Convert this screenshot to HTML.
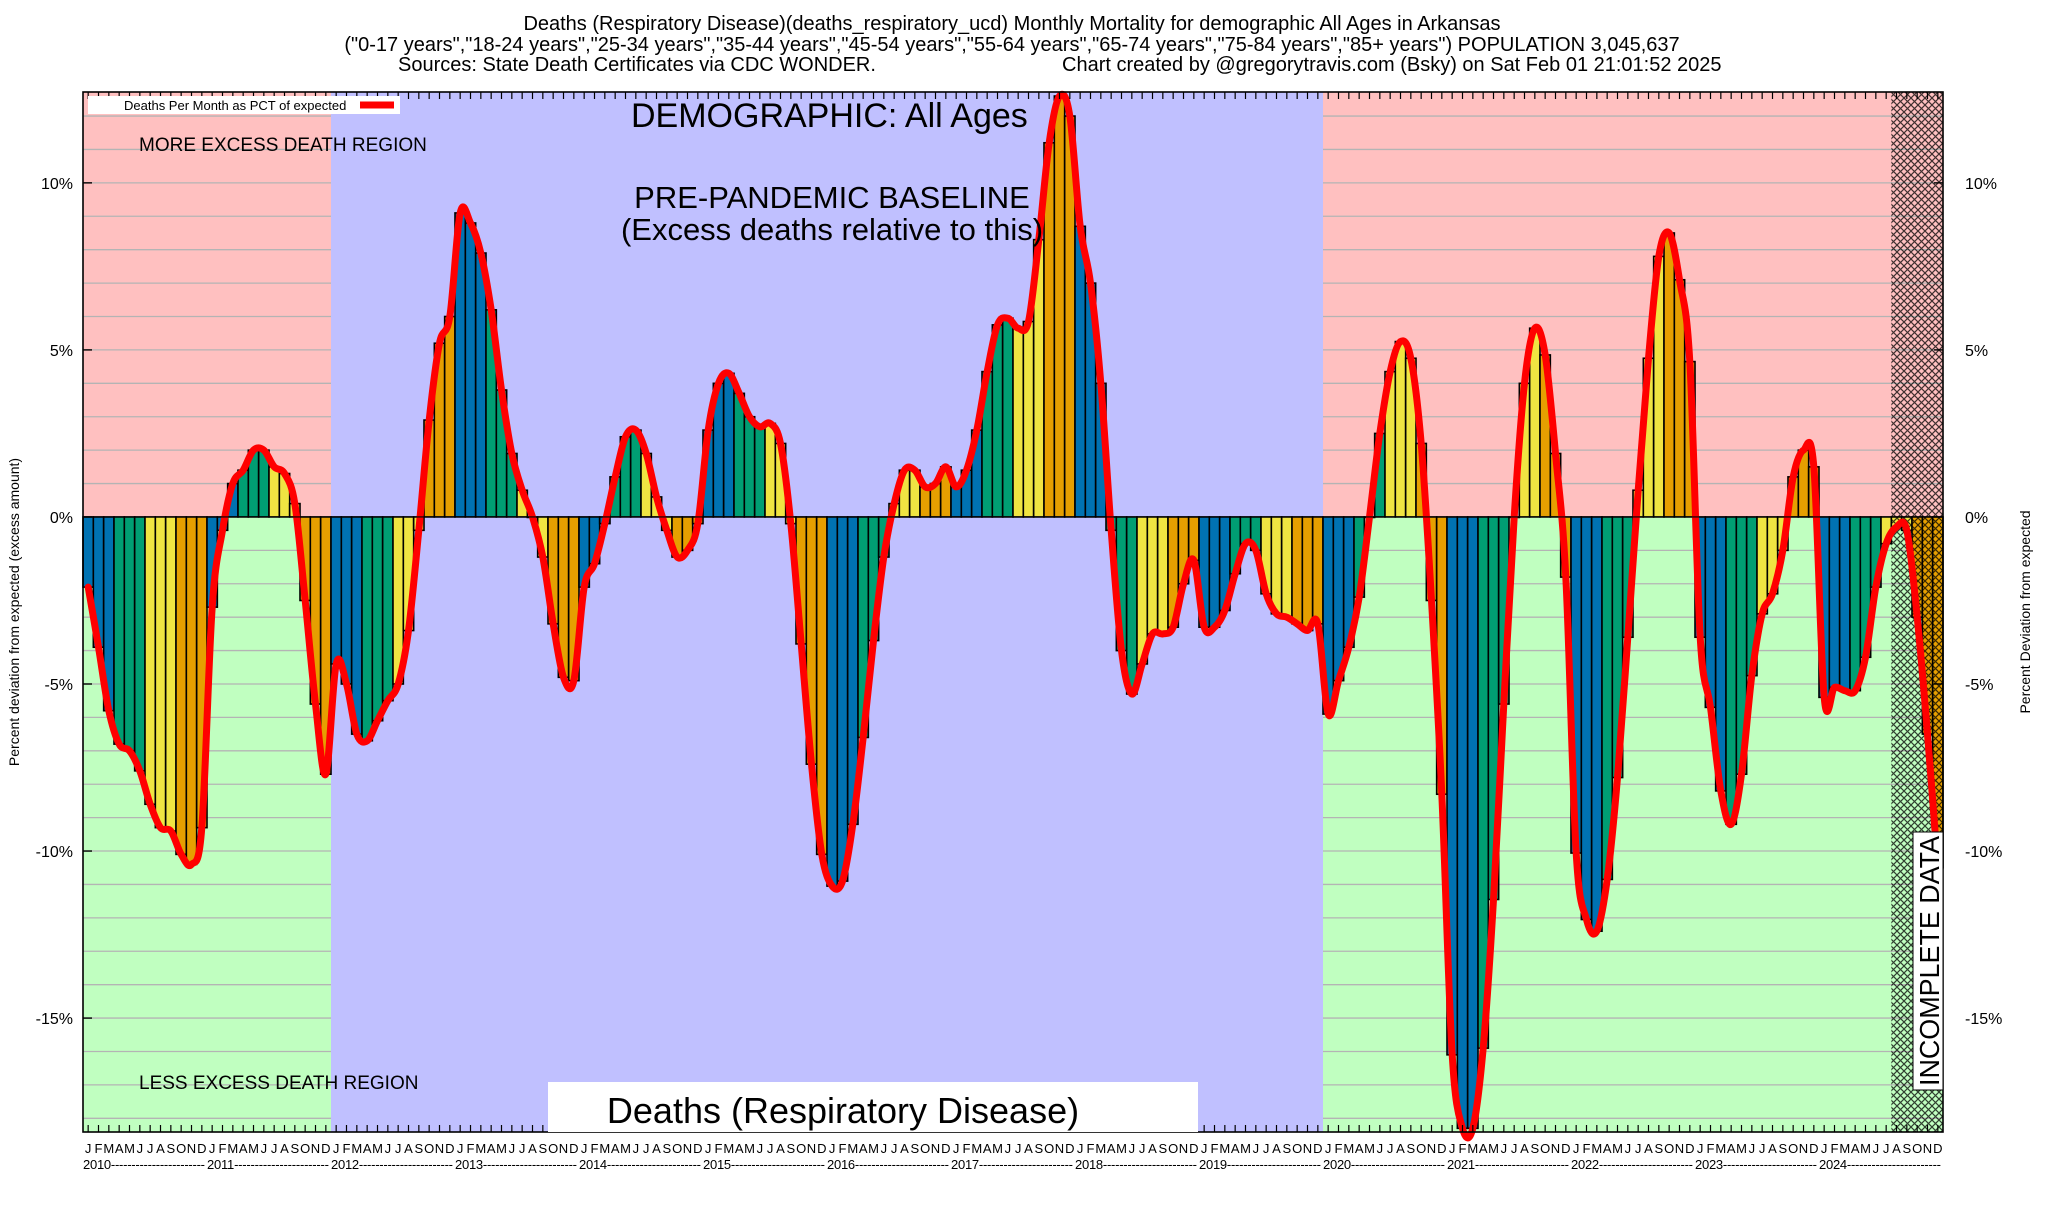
<!DOCTYPE html>
<html><head><meta charset="utf-8"><style>
html,body{margin:0;padding:0;background:#fff;}
svg text{font-family:"Liberation Sans",sans-serif;}
</style></head><body>
<svg id="chart" width="2048" height="1200" viewBox="0 0 2048 1200" xmlns="http://www.w3.org/2000/svg">
<defs>
<pattern id="hatch" width="7" height="7" patternUnits="userSpaceOnUse">
<path d="M0,0 L7,7 M7,0 L0,7" stroke="#000" stroke-width="1.2" opacity="0.75"/>
</pattern>
</defs>
<g id="bg"></g>
<g id="grid"></g>
<g id="bars"></g>
<g id="hatchg"></g>
<g id="line"></g>
<g id="axes"></g>
<text x="1012" y="30" font-size="20" text-anchor="middle">Deaths (Respiratory Disease)(deaths_respiratory_ucd) Monthly Mortality for demographic All Ages in Arkansas</text>
<text x="1012" y="51" font-size="20" text-anchor="middle">("0-17 years","18-24 years","25-34 years","35-44 years","45-54 years","55-64 years","65-74 years","75-84 years","85+ years") POPULATION 3,045,637</text>
<text x="398" y="71" font-size="20">Sources: State Death Certificates via CDC WONDER.</text>
<text x="1062" y="71" font-size="20">Chart created by @gregorytravis.com (Bsky) on Sat Feb 01 21:01:52 2025</text>
<g>
<rect x="88" y="96" width="312" height="18" fill="#fff"/>
<text x="124" y="110" font-size="13">Deaths Per Month as PCT of expected</text>
<line x1="360" y1="105" x2="394" y2="105" stroke="#f00" stroke-width="7"/>
</g>
<text x="139" y="151" font-size="19">MORE EXCESS DEATH REGION</text>
<text x="139" y="1089" font-size="19">LESS EXCESS DEATH REGION</text>
<text x="631" y="127" font-size="34">DEMOGRAPHIC: All Ages</text>
<text x="832" y="208" font-size="31" text-anchor="middle">PRE-PANDEMIC BASELINE</text>
<text x="832" y="240" font-size="31" text-anchor="middle">(Excess deaths relative to this)</text>
<rect x="548" y="1082" width="650" height="50" fill="#fff"/>
<text x="843" y="1123" font-size="36" text-anchor="middle">Deaths (Respiratory Disease)</text>
<g transform="translate(1928,1088) rotate(-90)">
<rect x="-2" y="-15" width="258" height="30" fill="#fff" stroke="#000" stroke-width="1"/>
<text x="127" y="11" font-size="28" text-anchor="middle" textLength="250" lengthAdjust="spacingAndGlyphs">INCOMPLETE DATA</text>
</g>
<text transform="translate(19,612) rotate(-90)" font-size="14" text-anchor="middle">Percent deviation from expected (excess amount)</text>
<text transform="translate(2030,612) rotate(-90)" font-size="14" text-anchor="middle">Percent Deviation from expected</text>
</svg>
<script>
const years = [2010,2011,2012,2013,2014,2015,2016,2017,2018,2019,2020,2021,2022,2023,2024];
const monthLetters = ["J","F","M","A","M","J","J","A","S","O","N","D"];
const yTicks = [-15,-10,-5,0,5,10];
const yTickLabels = ["-15%","-10%","-5%","0%","5%","10%"];
const values = [
-2.1,-3.9,-5.8,-6.8,-7.0,-7.6,-8.6,-9.3,-9.4,-10.1,-10.4,-9.3,
-2.7,-0.4,1.0,1.4,2.0,2.0,1.5,1.3,0.4,-2.5,-5.6,-7.7,
-4.4,-5.0,-6.5,-6.7,-6.1,-5.5,-5.0,-3.4,-0.4,2.9,5.2,6.0,
9.1,8.8,7.9,6.2,3.8,1.9,0.8,0.0,-1.2,-3.2,-4.8,-4.9,
-2.1,-1.4,-0.2,1.2,2.4,2.6,1.9,0.6,-0.4,-1.2,-1.0,-0.2,
2.6,4.0,4.3,3.7,3.0,2.7,2.8,2.2,-0.2,-3.8,-7.4,-10.1,
-11.05,-10.9,-9.2,-6.6,-3.7,-1.2,0.4,1.4,1.4,0.9,1.0,1.5,
0.9,1.4,2.6,4.35,5.75,5.95,5.65,5.85,8.3,11.2,12.6,12.0,
8.7,7.0,4.0,-0.4,-4.0,-5.3,-4.4,-3.5,-3.5,-3.3,-2.0,-1.3,
-3.3,-3.3,-2.8,-1.7,-0.8,-1.0,-2.3,-2.9,-3.0,-3.2,-3.4,-3.2,
-5.9,-4.9,-3.9,-2.4,0.0,2.5,4.35,5.25,4.75,2.2,-2.5,-8.3,
-16.1,-18.3,-18.3,-15.9,-11.45,-5.6,0.0,4.0,5.65,4.85,1.9,-1.8,
-10.06,-12.05,-12.4,-10.85,-7.8,-3.6,0.8,4.75,7.8,8.5,7.1,4.65,
-3.6,-5.7,-8.2,-9.2,-7.7,-4.75,-2.9,-2.3,-1.0,1.2,2.0,1.5,
-5.4,-5.1,-5.2,-5.2,-4.2,-2.1,-0.8,-0.3,-0.4,-3.0,-6.5,-10.5
];
const incompleteFrom = 175;

const NS="http://www.w3.org/2000/svg";
const L=83,R=1943,T=92,B=1132;
const yMax=12.72,yMin=-18.41;
const nM=years.length*12;
const bw=(R-L)/nM;
function xs(i){return L+i*bw;}
function ys(v){return T+(yMax-v)/(yMax-yMin)*(B-T);}
function mk(tag,attrs,parent){const e=document.createElementNS(NS,tag);for(const k in attrs)e.setAttribute(k,attrs[k]);parent.appendChild(e);return e;}
const bg=document.getElementById('bg'),grid=document.getElementById('grid'),bars=document.getElementById('bars'),
hg=document.getElementById('hatchg'),lg=document.getElementById('line'),ax=document.getElementById('axes');
const y0=ys(0);
const blueStart=xs(24),blueEnd=xs(120);
let r;
r=mk('rect',{x:L,y:T,width:blueStart-L,height:y0-T,fill:'#ffc0c0'},bg);

r=mk('rect',{x:L,y:y0,width:blueStart-L,height:B-y0,fill:'#c0ffc0'},bg);

r=mk('rect',{x:blueStart,y:T,width:blueEnd-blueStart,height:B-T,fill:'#c0c0ff'},bg);

r=mk('rect',{x:blueEnd,y:T,width:R-blueEnd,height:y0-T,fill:'#ffc0c0'},bg);

r=mk('rect',{x:blueEnd,y:y0,width:R-blueEnd,height:B-y0,fill:'#c0ffc0'},bg);

for(let v=Math.ceil(yMin);v<=Math.floor(yMax);v++){
  if(v===0)continue;
  const g1=mk('line',{x1:L,x2:blueStart,y1:ys(v),y2:ys(v),stroke:'#b4b4b4','stroke-width':1.3},grid);
  
  const g2=mk('line',{x1:blueEnd,x2:R,y1:ys(v),y2:ys(v),stroke:'#b4b4b4','stroke-width':1.3},grid);
  
}
const cols=['#0072b2','#009e73','#f0e442','#e69f00'];
values.forEach((v,i)=>{
  const top=Math.min(ys(v),y0),h=Math.abs(ys(v)-y0);
  const b=mk('rect',{x:xs(i),y:top,width:bw,height:Math.max(h,0.5),fill:cols[Math.floor((i%12)/3)],stroke:'#000','stroke-width':1.6},bars);
  
  
});
const hx=xs(incompleteFrom);
r=mk('rect',{x:hx,y:T,width:R-hx,height:B-T,fill:'url(#hatch)'},hg);

const pts=values.map((v,i)=>[xs(i)+bw/2,ys(v)]);
let d='M'+pts[0][0].toFixed(1)+','+pts[0][1].toFixed(1);
for(let i=0;i<pts.length-1;i++){
  const p0=pts[Math.max(i-1,0)],p1=pts[i],p2=pts[i+1],p3=pts[Math.min(i+2,pts.length-1)];
  const c1=[p1[0]+(p2[0]-p0[0])/6,p1[1]+(p2[1]-p0[1])/6];
  const c2=[p2[0]-(p3[0]-p1[0])/6,p2[1]-(p3[1]-p1[1])/6];
  d+=' C'+c1[0].toFixed(1)+','+c1[1].toFixed(1)+' '+c2[0].toFixed(1)+','+c2[1].toFixed(1)+' '+p2[0].toFixed(1)+','+p2[1].toFixed(1);
}
const ln=mk('path',{d:d,fill:'none',stroke:'#f00','stroke-width':7,'stroke-linejoin':'round','stroke-linecap':'round'},lg);

const fr=mk('rect',{x:L,y:T,width:R-L,height:B-T,fill:'none',stroke:'#000','stroke-width':1.6},ax);

const zl=mk('line',{x1:L,x2:R,y1:y0,y2:y0,stroke:'#000','stroke-width':1.2},ax);

yTicks.forEach((t,k)=>{
  const y=ys(t);
  mk('line',{x1:L,x2:L+9,y1:y,y2:y,stroke:'#000','stroke-width':1.4},ax);
  mk('line',{x1:R-9,x2:R,y1:y,y2:y,stroke:'#000','stroke-width':1.4},ax);
  const tl=mk('text',{x:L-10,y:y+6,'font-size':16,'text-anchor':'end'},ax);
  tl.textContent=yTickLabels[k];
  
  const tr=mk('text',{x:R+22,y:y+6,'font-size':16,'text-anchor':'start'},ax);
  tr.textContent=yTickLabels[k];
  
});
for(let i=0;i<nM;i++){
  const x=xs(i)+bw/2;
  mk('line',{x1:x,x2:x,y1:T,y2:T+7,stroke:'#000','stroke-width':1.2},ax);
  mk('line',{x1:x,x2:x,y1:B-7,y2:B,stroke:'#000','stroke-width':1.2},ax);
  const m=mk('text',{x:x,y:1153,'font-size':13,'text-anchor':'middle'},ax);
  m.textContent=monthLetters[i%12];
  
}
years.forEach((yr,k)=>{
  const t=mk('text',{x:xs(k*12),y:1169,'font-size':13,'text-anchor':'start',textLength:bw*12-2,lengthAdjust:'spacing'},ax);
  t.textContent=yr+'-----------------------';
  
});
</script>
</body></html>
